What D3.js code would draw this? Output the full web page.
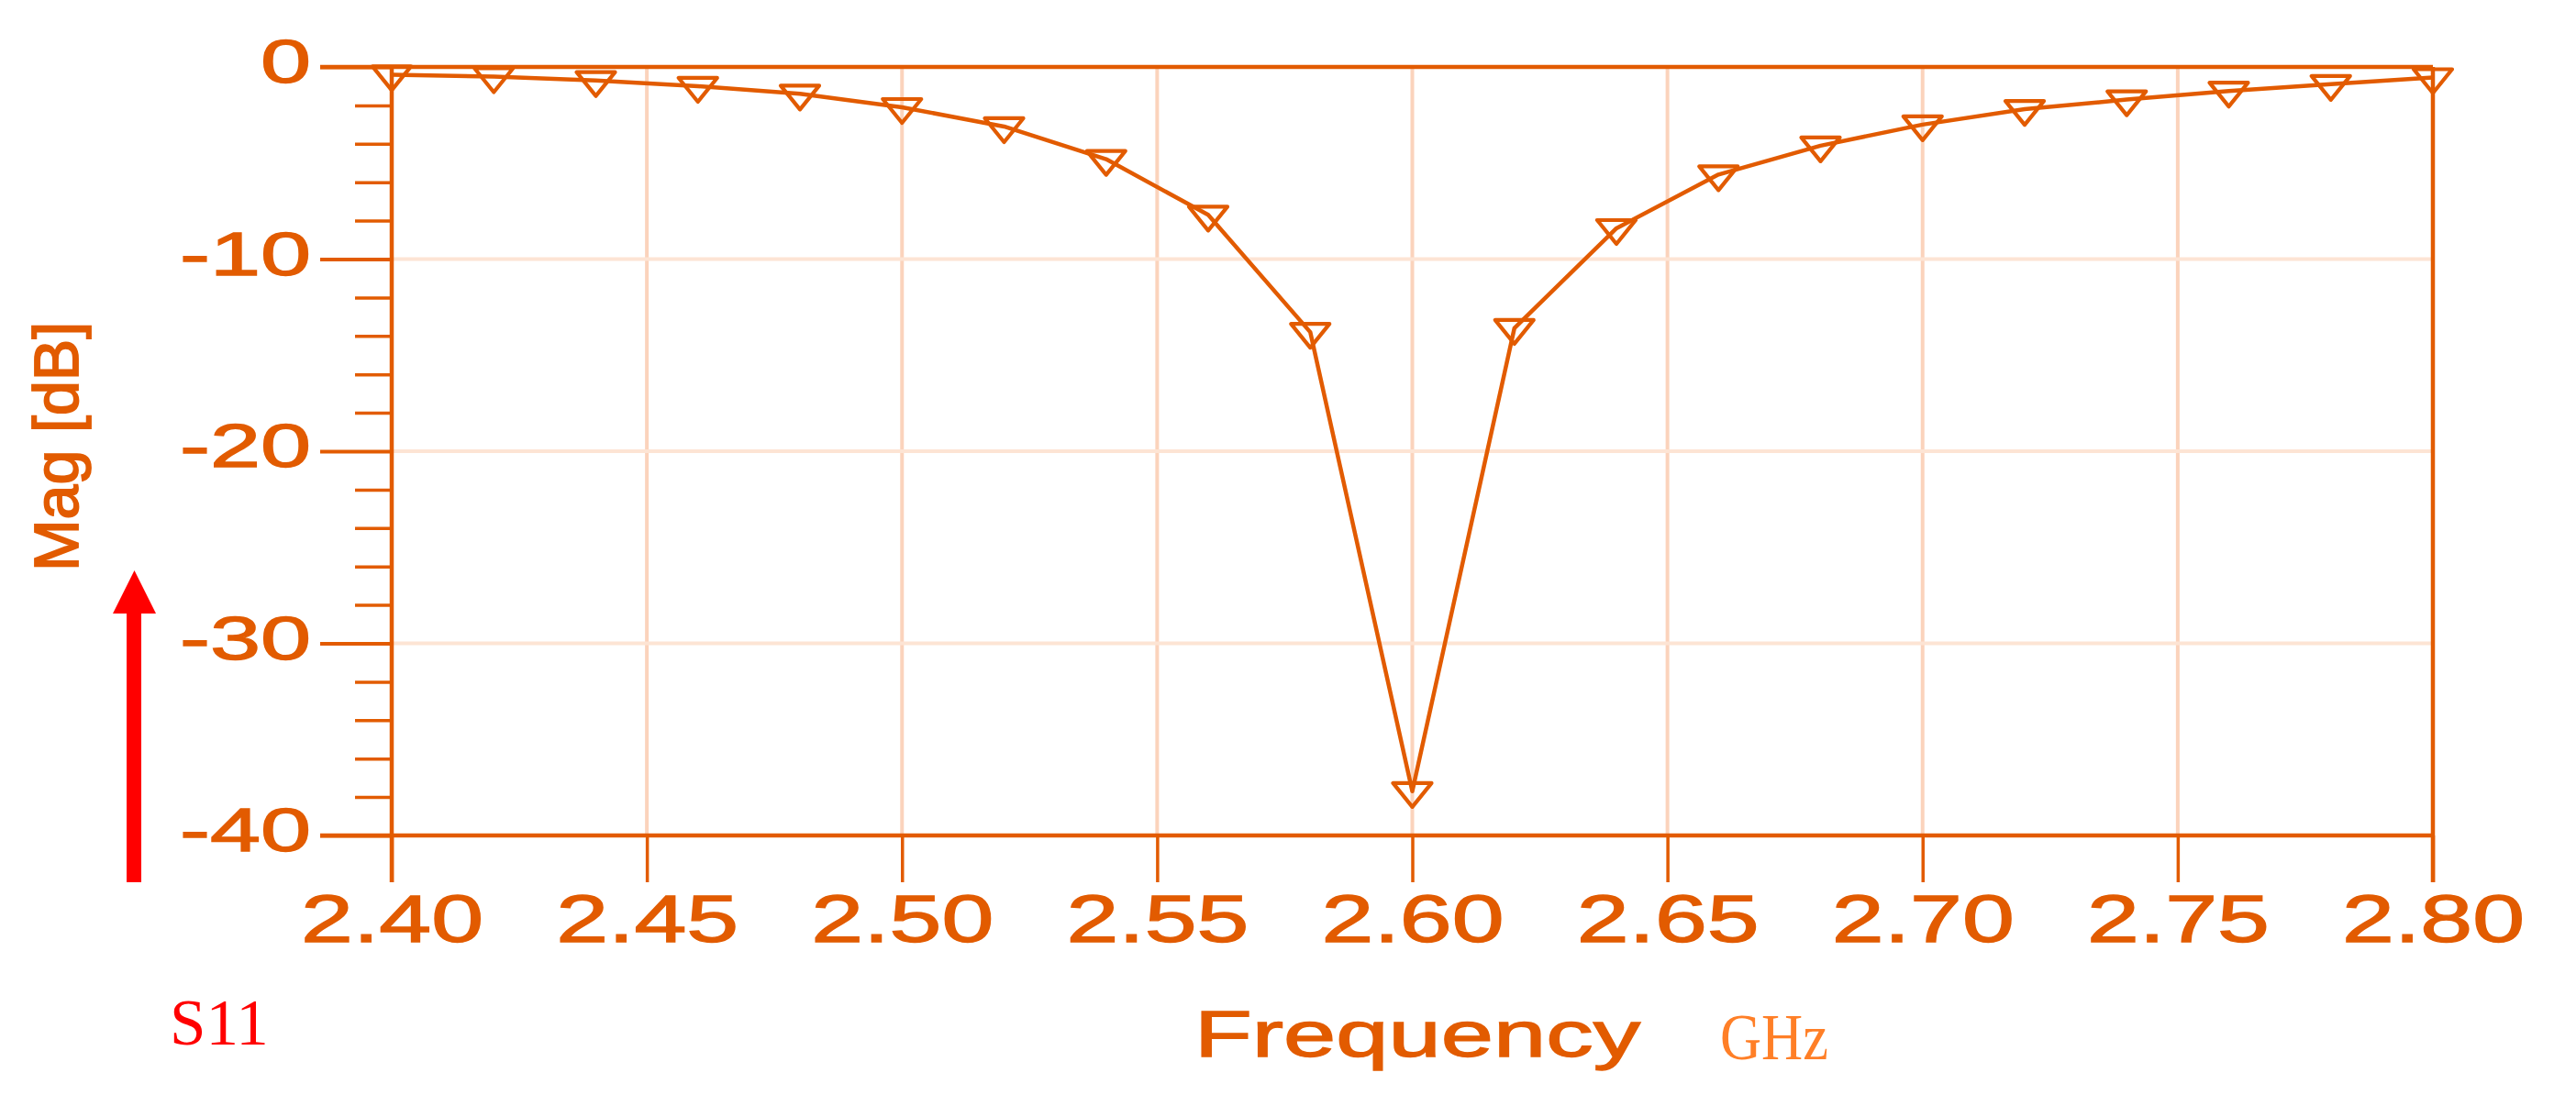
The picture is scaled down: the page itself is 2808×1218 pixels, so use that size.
<!DOCTYPE html>
<html><head><meta charset="utf-8">
<script src="https://cdn.jsdelivr.net/npm/d3@7"></script>
<style>html,body{margin:0;padding:0;background:#fff;} svg{display:block;}</style>
</head><body>
<script>
// ---- data ----
const freqs = [2.40,2.42,2.44,2.46,2.48,2.50,2.52,2.54,2.56,2.58,2.60,2.62,2.64,2.66,2.68,2.70,2.72,2.74,2.76,2.78,2.80];
const s11   = [-0.4,-0.5,-0.7,-1.0,-1.4,-2.1,-3.1,-4.8,-7.7,-13.8,-37.7,-13.6,-8.4,-5.6,-4.1,-3.0,-2.2,-1.7,-1.25,-0.9,-0.55];
const xTicks = [2.40,2.45,2.50,2.55,2.60,2.65,2.70,2.75,2.80];
const xTickLabels = ["2.40","2.45","2.50","2.55","2.60","2.65","2.70","2.75","2.80"];
const yTicks = [0,-10,-20,-30,-40];
const yTickLabels = ["0","-10","-20","-30","-40"];
const yMinorTicks = [-2,-4,-6,-8,-12,-14,-16,-18,-22,-24,-26,-28,-32,-34,-36,-38];
const xGrid = [2.45,2.50,2.55,2.60,2.65,2.70,2.75];
const yGrid = [-10,-20,-30];

// ---- layout / style ----
const W = 2808, H = 1218;
const L = 427, R = 2652, T = 73, B = 911;
const ORANGE = "#e25b00";
const SANS = "Liberation Sans, Arial, sans-serif";
const SERIF = "Liberation Serif, Times New Roman, serif";

const svg = d3.select("body").append("svg").attr("width", W).attr("height", H)
  .style("background", "#fff");

const x = d3.scaleLinear().domain([2.40, 2.80]).range([L, R]);
const y = d3.scaleLinear().domain([0, -40]).range([T, B]);

// grid
svg.append("g").selectAll("line").data(xGrid).join("line")
  .attr("x1", d => x(d)).attr("x2", d => x(d)).attr("y1", y(0)).attr("y2", y(-40))
  .attr("stroke", "#fbd3bc").attr("stroke-width", 4);
svg.append("g").selectAll("line").data(yGrid).join("line")
  .attr("x1", x(2.40)).attr("x2", x(2.80)).attr("y1", d => y(d)).attr("y2", d => y(d))
  .attr("stroke", "#fde4d4").attr("stroke-width", 4);

// x axis
const xAxis = d3.axisBottom(x).tickValues(xTicks)
  .tickFormat((d, i) => xTickLabels[i]).tickSize(51).tickPadding(0);
const gx = svg.append("g").attr("transform", `translate(0,${y(-40)})`).call(xAxis);
gx.select(".domain").remove();
gx.selectAll(".tick line").attr("stroke", ORANGE).attr("stroke-width", 3.5);
gx.selectAll(".tick text")
  .attr("fill", ORANGE).attr("stroke", ORANGE).attr("stroke-width", 1.3)
  .attr("font-family", SANS)
  .attr("font-size", 72).attr("y", 116).attr("dy", 0)
  .attr("text-anchor", "middle").attr("transform", "scale(1.42,1)");

// y axis minor ticks
const yMinor = d3.axisLeft(y).tickValues(yMinorTicks).tickFormat("").tickSize(40);
const gym = svg.append("g").attr("transform", `translate(${x(2.40)},0)`).call(yMinor);
gym.select(".domain").remove();
gym.selectAll(".tick line").attr("stroke", ORANGE).attr("stroke-width", 3.5);

// y axis major ticks
const yAxis = d3.axisLeft(y).tickValues(yTicks)
  .tickFormat((d, i) => yTickLabels[i]).tickSize(78).tickPadding(0);
const gy = svg.append("g").attr("transform", `translate(${x(2.40)},0)`).call(yAxis);
gy.select(".domain").remove();
gy.selectAll(".tick line").attr("stroke", ORANGE).attr("stroke-width", 4);
gy.selectAll(".tick text")
  .attr("fill", ORANGE).attr("stroke", ORANGE).attr("stroke-width", 1.3)
  .attr("font-family", SANS)
  .attr("font-size", 66).attr("x", -88 / 1.5).attr("dy", 0).attr("y", 16.5)
  .attr("text-anchor", "end").attr("transform", "scale(1.5,1)");

// frame lines
const frame = svg.append("g").attr("stroke", ORANGE).attr("stroke-width", 4.5).attr("fill", "none");
frame.append("line").attr("x1", x(2.40) - 78).attr("x2", x(2.80)).attr("y1", y(0)).attr("y2", y(0));
frame.append("line").attr("x1", x(2.40) - 78).attr("x2", x(2.80)).attr("y1", y(-40)).attr("y2", y(-40));
frame.append("line").attr("x1", x(2.40)).attr("x2", x(2.40)).attr("y1", y(0)).attr("y2", y(-40) + 51);
frame.append("line").attr("x1", x(2.80)).attr("x2", x(2.80)).attr("y1", y(0)).attr("y2", y(-40) + 51);

// curve
const pts = freqs.map((f, i) => [f, s11[i]]);
svg.append("path").datum(pts)
  .attr("d", d3.line().x(d => x(d[0])).y(d => y(d[1])))
  .attr("fill", "none").attr("stroke", ORANGE).attr("stroke-width", 4.5)
  .attr("stroke-linejoin", "round");

// markers (downward triangles)
svg.append("g").selectAll("path").data(pts).join("path")
  .attr("transform", d => `translate(${x(d[0])},${y(d[1])})`)
  .attr("d", "M-21,-9 L21,-9 L0,17 Z")
  .attr("fill", "none").attr("stroke", ORANGE).attr("stroke-width", 4.2)
  .attr("stroke-linejoin", "round");

// axis titles
svg.append("text").text("Mag [dB]")
  .attr("transform", "translate(85,487) rotate(-90)")
  .attr("text-anchor", "middle").attr("fill", ORANGE)
  .attr("stroke", ORANGE).attr("stroke-width", 1.8)
  .attr("font-family", SANS).attr("font-size", 68);

svg.append("text").text("Frequency")
  .attr("transform", "translate(1302,1152) scale(1.47,1)")
  .attr("fill", ORANGE).attr("stroke", ORANGE).attr("stroke-width", 1.3)
  .attr("font-family", SANS).attr("font-size", 70);

svg.append("text").text("GHz")
  .attr("transform", "translate(1875,1155) scale(0.88,1)")
  .attr("fill", "#ff7f27")
  .attr("font-family", SERIF).attr("font-size", 71);

// annotation: red arrow + S11
const RED = "#ff0000";
svg.append("rect").attr("x", 138).attr("y", 668).attr("width", 16).attr("height", 962 - 668).attr("fill", RED);
svg.append("path").attr("d", "M123,669 L170,669 L146.5,622 Z").attr("fill", RED);
svg.append("text").text("S11")
  .attr("x", 185).attr("y", 1139).attr("fill", RED)
  .attr("font-family", SERIF).attr("font-size", 71);
</script>
</body></html>
